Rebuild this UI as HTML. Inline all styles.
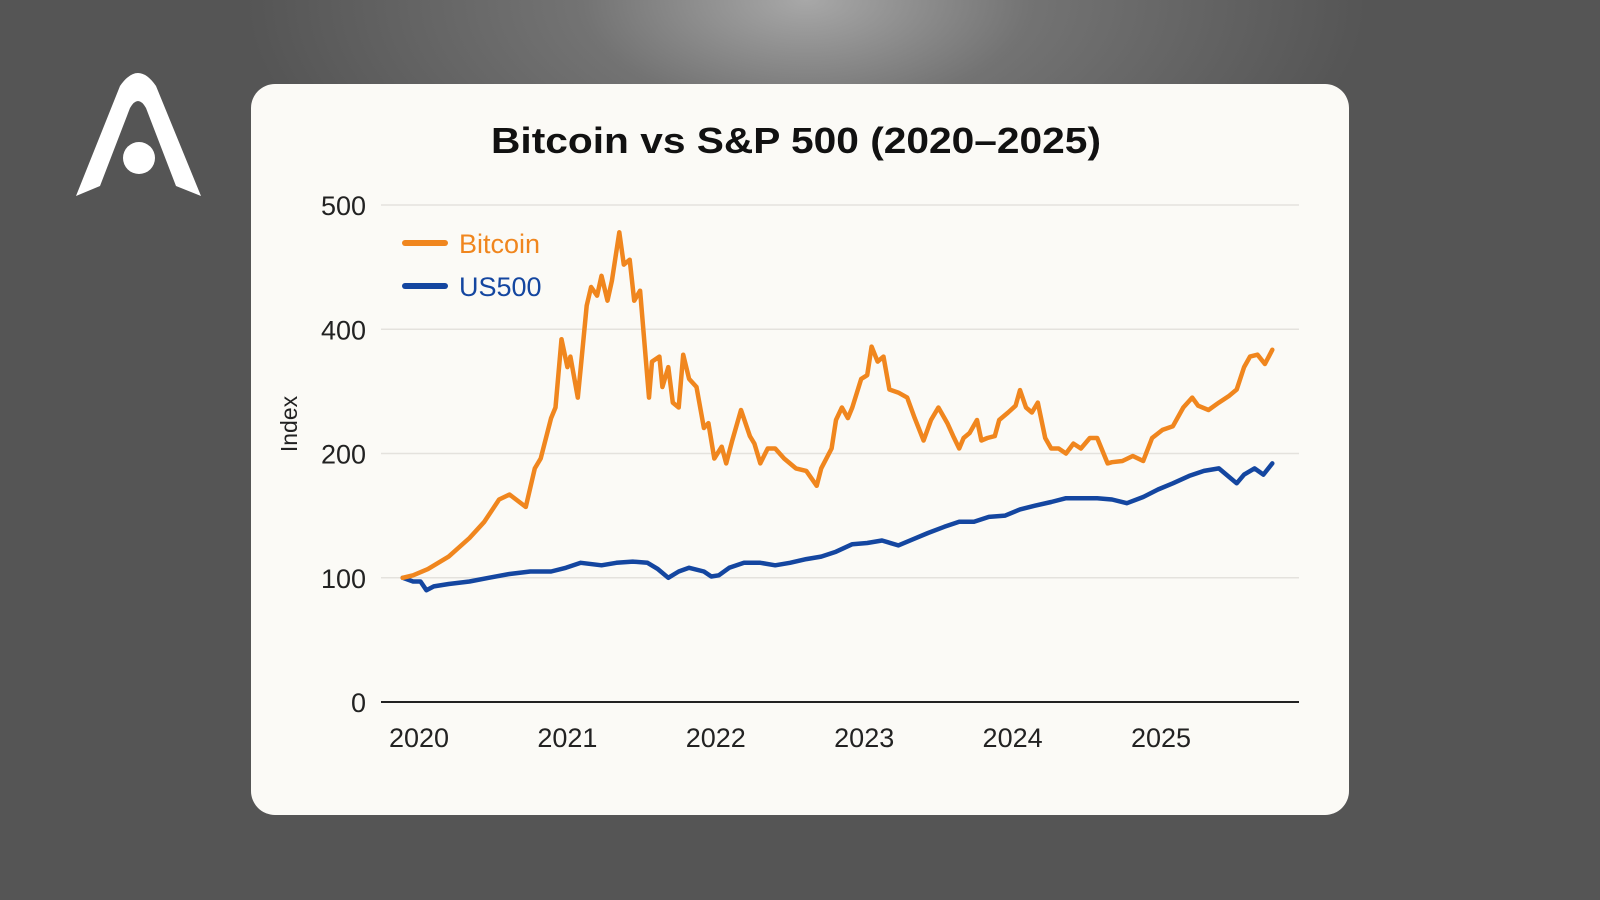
<!DOCTYPE html>
<html><head><meta charset="utf-8"><style>
html,body{margin:0;padding:0;width:1600px;height:900px;overflow:hidden;background:#555}
svg{display:block}
text{font-family:"Liberation Sans",sans-serif}
</style></head><body>
<svg id="chart" width="1600" height="900" viewBox="0 0 1600 900">
<defs>
<radialGradient id="glow" cx="806" cy="0" r="560" gradientUnits="userSpaceOnUse" gradientTransform="translate(806 0) scale(1 0.5) translate(-806 0)">
<stop offset="0" stop-color="#a8a8a8"/><stop offset="0.4" stop-color="#737373"/><stop offset="1" stop-color="#555"/>
</radialGradient>
</defs>
<rect width="1600" height="900" fill="#555"/>
<rect width="1600" height="900" fill="url(#glow)"/>
<g fill="#fff">
<path d="M76,196 L120,86 Q138,60 156,86 L201,196 L176,186 L146,108 Q138,94 130,108 L100,186 Z"/>
<circle cx="139" cy="158" r="16"/>
</g>
<rect x="251" y="84" width="1098" height="731" rx="24" fill="#fbfaf6"/>
<text x="796" y="153" text-anchor="middle" font-size="36" font-weight="bold" fill="#111" textLength="610" lengthAdjust="spacingAndGlyphs">Bitcoin vs S&amp;P 500 (2020–2025)</text>
<text transform="translate(297 424) rotate(-90)" text-anchor="middle" font-size="23" fill="#222">Index</text>
<g id="grid"></g><g id="yticks"></g><g id="xticks"></g><g id="series"></g>
<g>
<line x1="405" y1="243" x2="445" y2="243" stroke="#f0861e" stroke-width="6" stroke-linecap="round"/>
<text x="459" y="253" font-size="27" fill="#f0861e">Bitcoin</text>
<line x1="405" y1="286" x2="445" y2="286" stroke="#1446a0" stroke-width="6" stroke-linecap="round"/>
<text x="459" y="296" font-size="27" fill="#1446a0">US500</text>
</g>
</svg>
<script>
const yTickValues = [0, 100, 200, 400, 500];
const yTickLabels = ["0", "100", "200", "400", "500"];
const xTickValues = [2020, 2021, 2022, 2023, 2024, 2025];
const xTickLabels = ["2020", "2021", "2022", "2023", "2024", "2025"];
const btcDates = [2019.89,2019.96,2020.06,2020.20,2020.34,2020.44,2020.54,2020.61,2020.72,2020.78,2020.82,2020.89,2020.92,2020.96,2021.00,2021.02,2021.07,2021.09,2021.13,2021.16,2021.20,2021.23,2021.27,2021.30,2021.35,2021.38,2021.42,2021.45,2021.49,2021.55,2021.57,2021.62,2021.64,2021.68,2021.71,2021.75,2021.78,2021.82,2021.87,2021.92,2021.95,2021.99,2022.04,2022.07,2022.11,2022.17,2022.23,2022.26,2022.30,2022.35,2022.40,2022.46,2022.54,2022.61,2022.68,2022.71,2022.78,2022.81,2022.85,2022.89,2022.92,2022.98,2023.02,2023.05,2023.09,2023.13,2023.17,2023.23,2023.29,2023.34,2023.40,2023.45,2023.50,2023.56,2023.60,2023.64,2023.67,2023.71,2023.76,2023.79,2023.83,2023.88,2023.91,2023.97,2024.02,2024.05,2024.09,2024.13,2024.17,2024.22,2024.26,2024.31,2024.36,2024.41,2024.46,2024.52,2024.57,2024.64,2024.67,2024.74,2024.81,2024.88,2024.94,2025.01,2025.08,2025.15,2025.21,2025.25,2025.32,2025.39,2025.46,2025.51,2025.56,2025.60,2025.65,2025.70,2025.75];
const btcValues = [100,102,107,117,132,145,163,167,157,188,196,257,274,384,339,356,290,339,419,434,427,443,423,439,478,452,456,423,431,290,348,356,307,339,282,274,359,320,307,241,249,196,211,192,220,270,228,216,192,208,208,196,188,186,174,188,208,254,274,257,274,320,326,372,348,356,303,298,290,257,221,254,274,249,228,208,225,233,254,221,225,228,254,266,277,302,274,266,282,225,208,208,200,216,208,225,225,192,193,194,198,194,225,238,244,274,290,277,270,282,293,303,339,356,359,344,367];
const spxDates = [2019.89,2019.96,2020.01,2020.05,2020.10,2020.20,2020.34,2020.47,2020.61,2020.75,2020.89,2020.99,2021.09,2021.23,2021.33,2021.44,2021.54,2021.61,2021.68,2021.75,2021.82,2021.92,2021.97,2022.02,2022.09,2022.19,2022.30,2022.40,2022.50,2022.61,2022.71,2022.81,2022.92,2023.02,2023.12,2023.23,2023.33,2023.43,2023.54,2023.64,2023.74,2023.84,2023.95,2024.05,2024.15,2024.26,2024.36,2024.46,2024.57,2024.67,2024.77,2024.88,2024.98,2025.08,2025.19,2025.29,2025.39,2025.46,2025.51,2025.56,2025.63,2025.69,2025.75];
const spxValues = [100,97,97,90,93,95,97,100,103,105,105,108,112,110,112,113,112,107,100,105,108,105,101,102,108,112,112,110,112,115,117,121,127,128,130,126,131,136,141,145,145,149,150,155,158,161,164,164,164,163,160,165,171,176,182,186,188,181,176,183,188,183,192];

const NS = "http://www.w3.org/2000/svg";
const yTop = 205, yBot = 702, step = (yBot - yTop) / (yTickValues.length - 1);
function yScale(v) {
  for (let i = 0; i < yTickValues.length - 1; i++) {
    const a = yTickValues[i], b = yTickValues[i + 1];
    if (v <= b || i === yTickValues.length - 2) {
      return yBot - (i + (v - a) / (b - a)) * step;
    }
  }
}
function xScale(t) { return 419 + (t - 2020) * 148.4; }
function mk(tag, attrs, parent) {
  const el = document.createElementNS(NS, tag);
  for (const k in attrs) el.setAttribute(k, attrs[k]);
  parent.appendChild(el);
  return el;
}
const grid = document.getElementById('grid'), yt = document.getElementById('yticks'), xt = document.getElementById('xticks'), ser = document.getElementById('series');
yTickValues.forEach((v, i) => {
  const y = yScale(v);
  const g = mk('line', {x1: 381, x2: 1299, y1: y, y2: y, stroke: v === 0 ? '#222' : '#e4e2dd', 'stroke-width': v === 0 ? 2 : 1.5}, grid);
  
  
  const t = mk('text', {x: 366, y: y + 10, 'text-anchor': 'end', 'font-size': 27, fill: '#222'}, yt);
  t.textContent = yTickLabels[i];
  
  
});
xTickValues.forEach((v, i) => {
  const t = mk('text', {x: xScale(v), y: 747, 'text-anchor': 'middle', 'font-size': 27, fill: '#222'}, xt);
  t.textContent = xTickLabels[i];
  
  
});
function line(dates, vals, color, name) {
  const d = dates.map((t, i) => (i ? 'L' : 'M') + xScale(t).toFixed(1) + ',' + yScale(vals[i]).toFixed(1)).join(' ');
  const p = mk('path', {d: d, fill: 'none', stroke: color, 'stroke-width': 4.5, 'stroke-linejoin': 'round', 'stroke-linecap': 'round'}, ser);
  
  
}
line(spxDates, spxValues, '#1446a0', 'us500-line');
line(btcDates, btcValues, '#f0861e', 'bitcoin-line');
</script>
</body></html>
